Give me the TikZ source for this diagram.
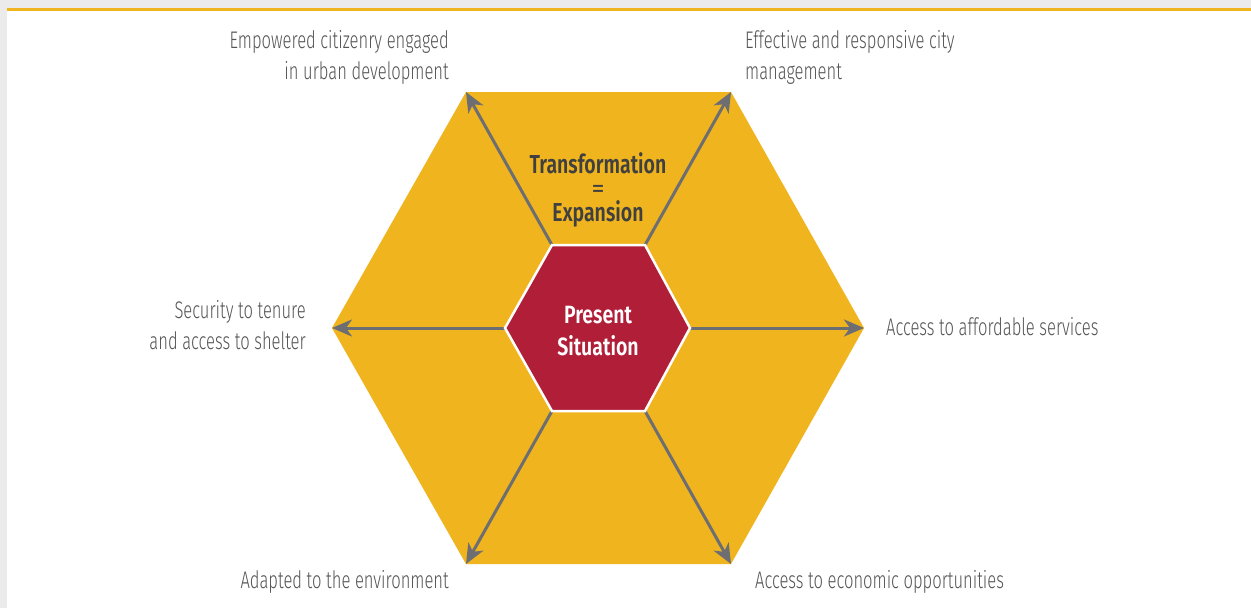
\documentclass[tikz,border=0pt]{standalone}
\usepackage{fontspec}
\setmainfont{Fira Sans}
\newfontfamily\lightf{Fira Sans Light}[FakeStretch=0.69]
\newfontfamily\boldf{Fira Sans SemiBold}[FakeStretch=0.78]
\newfontfamily\boldt{Fira Sans SemiBold}[FakeStretch=0.75]
\newfontfamily\regf{Fira Sans}
\usetikzlibrary{arrows.meta}
\definecolor{gold}{HTML}{F0B51E}
\definecolor{crimson}{HTML}{B01E37}
\definecolor{arrgrey}{HTML}{6D6E71}
\definecolor{txtgrey}{HTML}{555555}
\definecolor{darktxt}{HTML}{404040}
\definecolor{bggrey}{HTML}{EBEBEB}
\tikzset{
  arr/.style={draw=arrgrey, line width=3pt, -{Stealth[length=20pt,width=17pt,inset=6pt]}},
  lbl/.style={text=txtgrey, font=\lightf\fontsize{24}{31}\selectfont, inner sep=0pt},
  lblr/.style={lbl, anchor=east, align=right},
  lbll/.style={lbl, anchor=west, align=left},
}
\begin{document}
\begin{tikzpicture}[x=1pt,y=-1pt]
\useasboundingbox (0,0) rectangle (1251,608);
\fill[bggrey] (0,0) rectangle (1251,608);
\fill[white] (7,10) rectangle (1251,608);
\fill[gold] (7,7.5) rectangle (1251,10.5);
% outer hexagon
\coordinate (o1) at (466,92);
\coordinate (o2) at (731,92);
\coordinate (o3) at (864,328);
\coordinate (o4) at (731,564);
\coordinate (o5) at (466,564);
\coordinate (o6) at (332,328);
\fill[gold] (o1) -- (o2) -- (o3) -- (o4) -- (o5) -- (o6) -- cycle;
% inner hexagon
\coordinate (i1) at (552,245);
\coordinate (i2) at (645,245);
\coordinate (i3) at (690,328);
\coordinate (i4) at (645,411);
\coordinate (i5) at (552,411);
\coordinate (i6) at (505,328);
\draw[arr] (i1) -- (o1);
\draw[arr] (i2) -- (o2);
\draw[arr] (i3) -- (o3);
\draw[arr] (i4) -- (o4);
\draw[arr] (i5) -- (o5);
\draw[arr] (i6) -- (o6);
\filldraw[fill=crimson, draw=white, line width=2.5pt, line join=miter] (i1) -- (i2) -- (i3) -- (i4) -- (i5) -- (i6) -- cycle;
\node[text=white, font=\boldf\fontsize{25}{32}\selectfont, align=center, inner sep=0pt] (ps) at (598,331) {Present\\Situation};
\node[text=darktxt, font=\boldt\fontsize{26}{24}\selectfont, align=center, inner sep=0pt] (te) at (598,190) {Transformation\\{\regf=}\\Expansion};
% labels
\node[lblr] (l1) at (449,57) {Empowered citizenry engaged\\in urban development};
\node[lbll] (l2) at (745,57) {Effective and responsive city\\management};
\node[lblr] (l6) at (306,325) {Security to tenure\\and access to shelter};
\node[lbll] (l3) at (886,327) {Access to affordable services};
\node[lblr] (l5) at (449,582) {Adapted to the environment};
\node[lbll] (l4) at (755,582) {Access to economic opportunities};
\end{tikzpicture}
\end{document}
